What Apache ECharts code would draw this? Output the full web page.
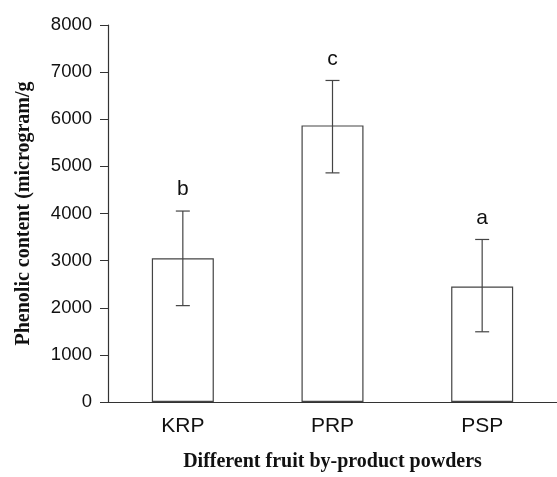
<!DOCTYPE html>
<html>
<head>
<meta charset="utf-8">
<script src="https://cdn.jsdelivr.net/npm/echarts@6/dist/echarts.min.js"></script>
<style>
  html, body { margin: 0; padding: 0; background: #fff; }
  #chart { width: 557px; height: 477px; }
</style>
</head>
<body>
<div id="chart"></div>
<script>
// datos
const categories = ['KRP', 'PRP', 'PSP'];
const meanValues = [3050, 5870, 2450];
const errLow = [2045, 4862, 1490];
const errHigh = [4052, 6823, 3449];
const groupLetters = ['b', 'c', 'a'];

const lineColor = '#333';

const chart = echarts.init(document.getElementById('chart'));

// barras de error + letras
const errorData = categories.map((c, i) => [i, errLow[i], errHigh[i]]);

chart.setOption({
    animation: false,
    grid: { left: 108, top: 25, width: 458, height: 385 },
    xAxis: {
        type: 'category',
        data: categories,
        name: 'Different fruit by-product powders',
        nameLocation: 'middle',
        nameGap: 50,
        nameTextStyle: { fontFamily: 'Liberation Serif', fontWeight: 'bold', fontSize: 20, color: '#111' },
        axisLine: { lineStyle: { color: lineColor, width: 1.2 } },
        axisTick: { length: 8, lineStyle: { color: lineColor } },
        axisLabel: { fontFamily: 'Liberation Sans', fontSize: 21, color: '#111', margin: 14 }
    },
    yAxis: {
        type: 'value',
        min: 0,
        max: 8000,
        interval: 1000,
        name: 'Phenolic content (microgram/g',
        nameLocation: 'middle',
        nameGap: 74,
        nameTextStyle: { fontFamily: 'Liberation Serif', fontWeight: 'bold', fontSize: 20, color: '#111' },
        axisLine: { show: true, lineStyle: { color: lineColor, width: 1.2 } },
        axisTick: { show: true, length: 8, lineStyle: { color: lineColor } },
        axisLabel: {
            fontFamily: 'Liberation Sans', fontSize: 18.5, color: '#111', margin: 16,
            formatter: v => String(v)
        },
        splitLine: { show: false }
    },
    series: [
        {
            type: 'bar',
            data: meanValues,
            barWidth: 62,
            itemStyle: { color: '#fff', borderColor: '#444', borderWidth: 1.2 }
        },
        {
            type: 'custom',
            data: errorData,
            z: 10,
            renderItem: function (params, api) {
                const x = api.coord([api.value(0), api.value(1)])[0];
                const yLo = api.coord([api.value(0), api.value(1)])[1];
                const yHi = api.coord([api.value(0), api.value(2)])[1];
                const hw = 7;
                const style = { stroke: '#444', lineWidth: 1.2 };
                return {
                    type: 'group',
                    children: [
                        { type: 'line', shape: { x1: x, y1: yHi, x2: x, y2: yLo }, style: style },
                        { type: 'line', shape: { x1: x - hw, y1: yHi, x2: x + hw, y2: yHi }, style: style },
                        { type: 'line', shape: { x1: x - hw, y1: yLo, x2: x + hw, y2: yLo }, style: style },
                        {
                            type: 'text',
                            style: {
                                text: groupLetters[params.dataIndex],
                                x: x,
                                y: yHi - 11,
                                align: 'center',
                                verticalAlign: 'bottom',
                                font: '21px "Liberation Sans"',
                                fill: '#111'
                            }
                        }
                    ]
                };
            }
        }
    ]
});
</script>
</body>
</html>
